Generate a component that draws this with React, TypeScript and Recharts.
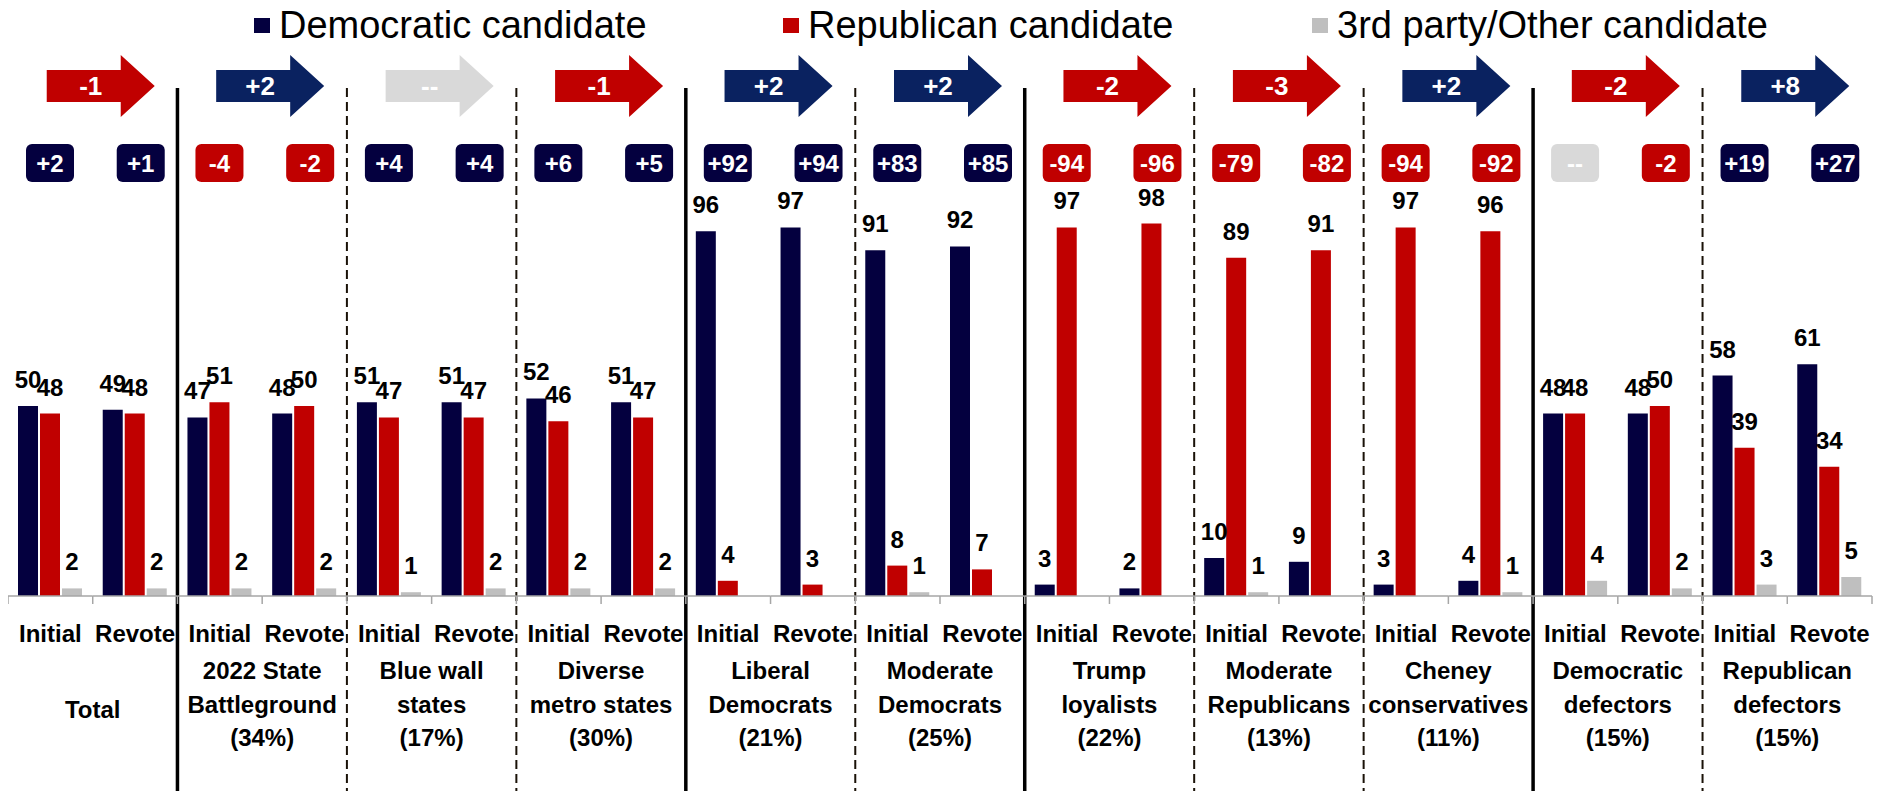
import React from 'react';
import { BarChart, Bar, XAxis, YAxis, Legend, LabelList, ReferenceLine } from 'recharts';

// Segment names, one list of lines per group
const categoryLines: string[][] = [
  ['Total'],
  ['2022 State', 'Battleground', '(34%)'],
  ['Blue wall', 'states', '(17%)'],
  ['Diverse', 'metro states', '(30%)'],
  ['Liberal', 'Democrats', '(21%)'],
  ['Moderate', 'Democrats', '(25%)'],
  ['Trump', 'loyalists', '(22%)'],
  ['Moderate', 'Republicans', '(13%)'],
  ['Cheney', 'conservatives', '(11%)'],
  ['Democratic', 'defectors', '(15%)'],
  ['Republican', 'defectors', '(15%)'],
];
const categories = categoryLines.map((l) => l.join(' '));
const rounds = ['Initial', 'Revote'];
const seriesNames = ['Democratic candidate', 'Republican candidate', '3rd party/Other candidate'];

const demInitial = [50, 47, 51, 52, 96, 91, 3, 10, 3, 48, 58];
const demRevote = [49, 48, 51, 51, 97, 92, 2, 9, 4, 48, 61];
const repInitial = [48, 51, 47, 46, 4, 8, 97, 89, 97, 48, 39];
const repRevote = [48, 50, 47, 47, 3, 7, 98, 91, 96, 50, 34];
const otherInitial = [2, 2, 1, 2, 0, 1, 0, 1, 0, 4, 3];
const otherRevote = [2, 2, 2, 2, 0, 0, 0, 0, 1, 2, 5];

// Dem minus Rep margin in each round, and change between rounds
const marginInitial = ['+2', '-4', '+4', '+6', '+92', '+83', '-94', '-79', '-94', '--', '+19'];
const marginRevote = ['+1', '-2', '+4', '+5', '+94', '+85', '-96', '-82', '-92', '-2', '+27'];
const marginShift = ['-1', '+2', '--', '-1', '+2', '+2', '-2', '-3', '+2', '-2', '+8'];

// groups that open a new panel get a solid divider, the rest dashed
const panelStarts = [1, 4, 6, 9];

const rows = categories.flatMap((cat, i) =>
  rounds.map((round, j) => ({
    id: `${cat}|${round}`,
    cat,
    round,
    dem: j === 0 ? demInitial[i] : demRevote[i],
    rep: j === 0 ? repInitial[i] : repRevote[i],
    other: j === 0 ? otherInitial[i] : otherRevote[i],
    margin: j === 0 ? marginInitial[i] : marginRevote[i],
  }))
);

const W = 1883;
const H = 799;
const MARGIN = { top: 0, right: 11, bottom: 0, left: 8 };
const LEGEND_H = 50;
const TOP_AXIS_H = 166;
const BASE = 596; // y of the zero line
const SUB_AXIS_H = 60;
const CAT_AXIS_H = H - BASE - SUB_AXIS_H - MARGIN.bottom;
const BAR = 20;
const BAR_GAP = 2;
const BAND = (W - MARGIN.left - MARGIN.right) / rows.length;

const FONT = '"Liberation Sans", Arial, sans-serif';
const DEM = '#04003F';
const REP = '#C00000';
const OTHER = '#BFBFBF';
const AXIS_GRAY = '#A6A6A6';

const toneColor = (label: string, arrow = false) => {
  if (label.startsWith('+')) return arrow ? '#0A2260' : DEM;
  if (label === '--') return '#D9D9D9';
  return REP;
};

const labelStyle = { fontFamily: FONT, fontSize: 24, fontWeight: 700, fill: '#000' };

const RoundTick = (props: any) => {
  const { x, payload } = props;
  const half = payload.offset || BAND / 2;
  const idx = rows.findIndex((r) => r.id === payload.value);
  const row = rows[idx];
  const left = idx === 0 ? x - half - 4 : x - half;
  return (
    <g>
      <line x1={left} x2={x + half} y1={BASE} y2={BASE} stroke={AXIS_GRAY} strokeWidth={1.5} />
      <line x1={x - half} x2={x - half} y1={BASE} y2={BASE + 8} stroke={AXIS_GRAY} strokeWidth={1.5} />
      {idx === rows.length - 1 && (
        <line x1={x + half} x2={x + half} y1={BASE} y2={BASE + 8} stroke={AXIS_GRAY} strokeWidth={1.5} />
      )}
      <text x={x} y={BASE + 46} textAnchor="middle" {...labelStyle}>
        {row ? row.round : ''}
      </text>
    </g>
  );
};

const CategoryTick = (props: any) => {
  const { x, payload } = props;
  const lines = categoryLines[categories.indexOf(payload.value)] || [];
  const first = lines.length === 1 ? 718 : 679;
  return (
    <text textAnchor="middle" {...labelStyle}>
      {lines.map((l, i) => (
        <tspan key={i} x={x} y={first + i * 33.5}>
          {l}
        </tspan>
      ))}
    </text>
  );
};

const ShiftArrow = (props: any) => {
  const { x, payload } = props;
  const label = marginShift[categories.indexOf(payload.value)] || '';
  const cx = x + 8;
  const d = `M${cx - 54},70 L${cx + 20},70 L${cx + 20},55 L${cx + 54},86 L${cx + 20},117 L${cx + 20},102 L${cx - 54},102 Z`;
  return (
    <g>
      <path d={d} fill={toneColor(label, true)} />
      <text x={cx - 10} y={95} textAnchor="middle" fontFamily={FONT} fontSize={26} fontWeight={700} fill="#fff">
        {label}
      </text>
    </g>
  );
};

const MarginBadge = (props: any) => {
  const vb = props.viewBox || {};
  const x = props.x ?? vb.x;
  const width = props.width ?? vb.width ?? BAR;
  const idx = props.index ?? Math.floor((x - MARGIN.left) / BAND);
  const row = rows[idx];
  if (!row) return null;
  const cx = x + width * 1.5 + BAR_GAP + (row.round === 'Revote' ? 6 : 0);
  return (
    <g>
      <rect x={cx - 24} y={144} width={48} height={38} rx={6} fill={toneColor(row.margin)} />
      <text x={cx} y={172} textAnchor="middle" fontFamily={FONT} fontSize={24} fontWeight={700} fill="#fff">
        {row.margin}
      </text>
    </g>
  );
};

const LegendRow = (props: any) => {
  const items = [...(props.payload || [])].sort(
    (a: any, b: any) => seriesNames.indexOf(a.value) - seriesNames.indexOf(b.value)
  );
  return (
    <div
      style={{
        height: LEGEND_H,
        display: 'flex',
        alignItems: 'center',
        paddingLeft: 254,
        fontFamily: FONT,
        fontSize: 38,
        color: '#000',
        boxSizing: 'border-box',
      }}
    >
      {items.map((it: any, i: number) => (
        <div
          key={it.value}
          style={{ display: 'flex', alignItems: 'center', gap: 9, width: i < items.length - 1 ? 529 : 'auto' }}
        >
          <span style={{ width: 16, height: 15, background: it.color, display: 'inline-block', flex: 'none' }} />
          <span style={{ whiteSpace: 'nowrap' }}>{it.value}</span>
        </div>
      ))}
    </div>
  );
};

const SeparatorLine = (p: any, solid: boolean) => (
  <line
    x1={p.x1}
    x2={p.x1}
    y1={88}
    y2={H}
    stroke={solid ? '#000' : '#1A1208'}
    strokeWidth={solid ? 3.5 : 2}
    strokeDasharray={solid ? undefined : '9 5'}
  />
);

export default function App() {
  return (
    <div style={{ margin: -8, width: W, height: H, overflow: 'hidden', background: '#fff' }}>
      <BarChart width={W} height={H} data={rows} margin={MARGIN} barGap={BAR_GAP}>
        <Legend
          verticalAlign="top"
          align="left"
          height={LEGEND_H}
          wrapperStyle={{ top: 0, left: 0, width: W, height: LEGEND_H }}
          content={<LegendRow />}
        />
        <XAxis
          xAxisId="sub"
          dataKey="id"
          height={SUB_AXIS_H}
          interval={0}
          tickLine={false}
          axisLine={false}
          tick={<RoundTick />}
        />
        <XAxis
          xAxisId="cat"
          dataKey="cat"
          allowDuplicatedCategory={false}
          height={CAT_AXIS_H}
          interval={0}
          tickLine={false}
          axisLine={false}
          tick={<CategoryTick />}
        />
        <XAxis
          xAxisId="catTop"
          orientation="top"
          dataKey="cat"
          allowDuplicatedCategory={false}
          height={TOP_AXIS_H}
          interval={0}
          tickLine={false}
          axisLine={false}
          tick={<ShiftArrow />}
        />
        <YAxis hide domain={[0, 100]} />
        <Bar xAxisId="sub" dataKey="dem" name={seriesNames[0]} fill={DEM} barSize={BAR} isAnimationActive={false}>
          <LabelList dataKey="dem" position="top" offset={18} {...labelStyle} />
          <LabelList dataKey="margin" content={<MarginBadge />} />
        </Bar>
        <Bar xAxisId="sub" dataKey="rep" name={seriesNames[1]} fill={REP} barSize={BAR} isAnimationActive={false}>
          <LabelList dataKey="rep" position="top" offset={18} {...labelStyle} />
        </Bar>
        <Bar xAxisId="sub" dataKey="other" name={seriesNames[2]} fill={OTHER} barSize={BAR} isAnimationActive={false}>
          <LabelList dataKey="other" position="top" offset={18} {...labelStyle} />
        </Bar>
        {categories.slice(1).map((c, k) => {
          const solid = panelStarts.includes(k + 1);
          return (
            <ReferenceLine
              key={c}
              xAxisId="cat"
              x={c}
              position="start"
              ifOverflow="visible"
              shape={(p: any) => SeparatorLine(p, solid)}
            />
          );
        })}
      </BarChart>
    </div>
  );
}
